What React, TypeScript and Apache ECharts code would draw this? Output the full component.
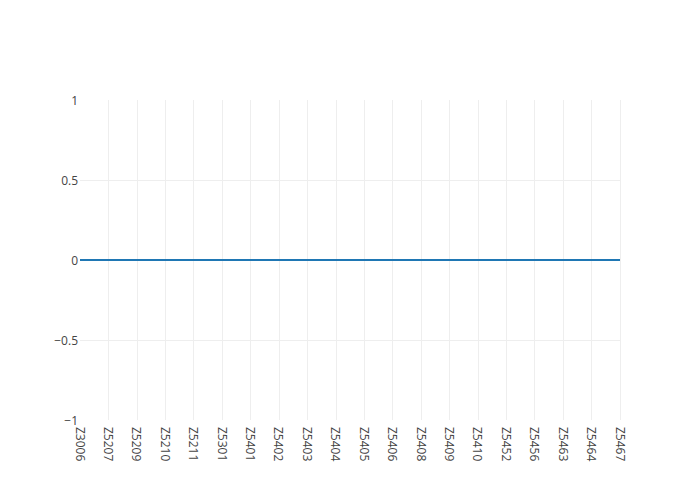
import React, { useEffect, useRef } from "react";
import * as echarts from "echarts";

const categories = [
  "Z3006", "Z5207", "Z5209", "Z5210", "Z5211", "Z5301", "Z5401", "Z5402", "Z5403", "Z5404",
  "Z5405", "Z5406", "Z5408", "Z5409", "Z5410", "Z5452", "Z5456", "Z5463", "Z5464", "Z5467",
];
const values = [0, 0, 0, 0, 0, 0, 0, 0, 0, 0, 0, 0, 0, 0, 0, 0, 0, 0, 0, 0];
const yMin = -1;
const yMax = 1;
const yStep = 0.5;

export default function App() {
  const ref = useRef<HTMLDivElement>(null);
  useEffect(() => {
    if (!ref.current) return;
    const chart = echarts.init(ref.current, undefined, { renderer: "svg" });
    const font = '"Open Sans", sans-serif';
    const xGridColors = categories.map((_, i) => (i === 0 ? "rgba(0,0,0,0)" : "#eeeeee"));
    chart.setOption({
      animation: false,
      backgroundColor: "#ffffff",
      grid: { left: 80, right: 80, top: 100, bottom: 80, containLabel: false },
      xAxis: {
        type: "category",
        data: categories,
        boundaryGap: false,
        axisLine: { show: false },
        axisTick: { show: false },
        axisLabel: {
          rotate: -90,
          interval: 0,
          color: "#444444",
          fontFamily: font,
          fontSize: 12,
          margin: 7,
        },
        splitLine: { show: true, lineStyle: { color: xGridColors, width: 1 } },
      },
      yAxis: {
        type: "value",
        min: yMin,
        max: yMax,
        interval: yStep,
        axisLine: { show: false },
        axisTick: { show: false },
        axisLabel: {
          color: "#444444",
          fontFamily: font,
          fontSize: 12,
          margin: 2,
          formatter: (v: number) => String(v).replace("-", "\u2212"),
        },
        splitLine: {
          show: true,
          lineStyle: {
            color: ["rgba(0,0,0,0)", "#eeeeee", "#eeeeee", "#eeeeee", "rgba(0,0,0,0)"],
            width: 1,
          },
        },
      },
      series: [
        {
          type: "line",
          data: values,
          showSymbol: false,
          symbol: "none",
          lineStyle: { color: "#1f77b4", width: 2 },
          itemStyle: { color: "#1f77b4" },
        },
      ],
    });
    return () => chart.dispose();
  }, []);
  return <div ref={ref} style={{ width: 700, height: 500, margin: -8 }} />;
}
